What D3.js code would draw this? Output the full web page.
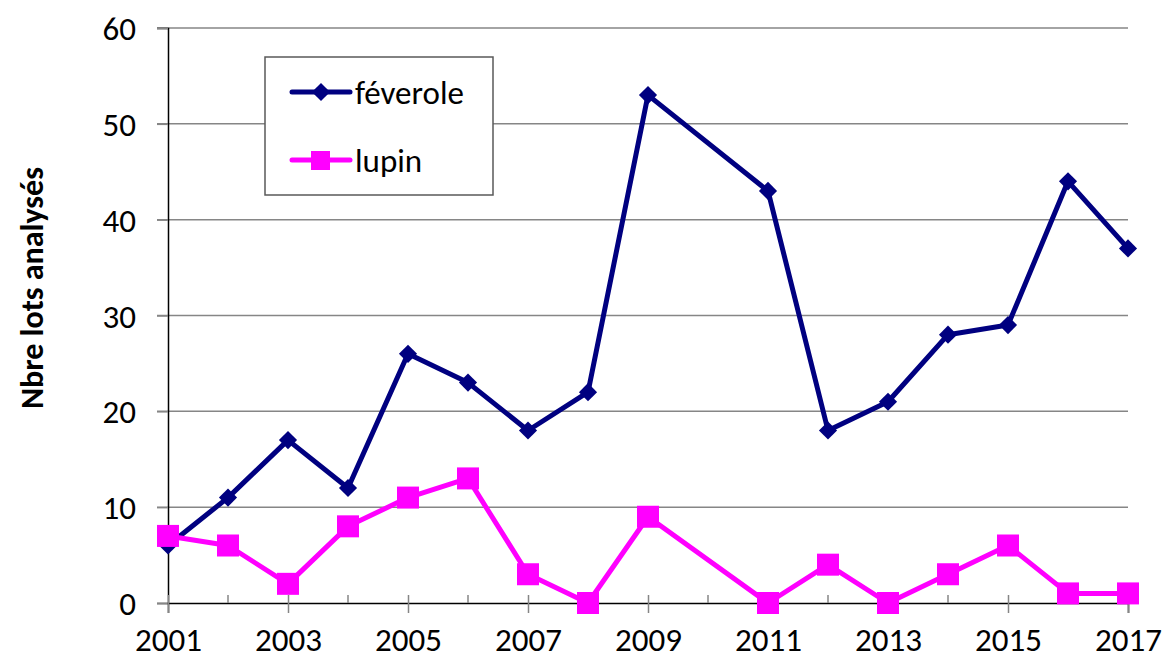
<!DOCTYPE html>
<html lang="fr">
<head>
<meta charset="UTF-8">
<title>Nbre lots analysés</title>
<script src="https://cdnjs.cloudflare.com/ajax/libs/d3/7.8.5/d3.min.js"></script>
<style>
    body { margin: 0; background: #fff; }
    svg text { font-family: Carlito, Calibri, Lato, sans-serif; fill: #000; }
</style>
</head>
<body>
<div id="chart"></div>
<script>
// years (2010 has no data)
const years = [2001, 2002, 2003, 2004, 2005, 2006, 2007, 2008, 2009, 2011, 2012, 2013, 2014, 2015, 2016, 2017];
const feverole = [6, 11, 17, 12, 26, 23, 18, 22, 53, 43, 18, 21, 28, 29, 44, 37];
const lupin = [7, 6, 2, 8, 11, 13, 3, 0, 9, 0, 4, 0, 3, 6, 1, 1];
const xTickLabels = [2001, 2003, 2005, 2007, 2009, 2011, 2013, 2015, 2017];
const yTicks = [0, 10, 20, 30, 40, 50, 60];
const seriesNames = ["féverole", "lupin"];

const W = 1162, H = 661;
const m = { left: 168, right: 34, top: 28, bottom: 58 };

const svg = d3.select("#chart").append("svg")
    .attr("width", W).attr("height", H);

const x = d3.scaleLinear().domain([2001, 2017]).range([m.left, W - m.right]);
const y = d3.scaleLinear().domain([0, 60]).range([H - m.bottom, m.top]);

// gridlines
svg.append("g").selectAll("line")
    .data(yTicks.filter(d => d > 0))
    .enter().append("line")
    .attr("x1", m.left - 11).attr("x2", W - m.right)
    .attr("y1", d => y(d)).attr("y2", d => y(d))
    .attr("stroke", "#868686").attr("stroke-width", 1.5);

// y axis
const yAxis = svg.append("g")
    .attr("transform", `translate(${m.left},0)`)
    .call(d3.axisLeft(y).tickValues(yTicks).tickSize(11).tickPadding(21));
yAxis.select(".domain").attr("stroke", "#000").attr("stroke-width", 1.5);
yAxis.selectAll(".tick line").attr("stroke", "#868686").attr("stroke-width", 1.5);
yAxis.selectAll("text").style("font-size", "33px").attr("dy", "0.35em");

// x axis
const xAxis = svg.append("g")
    .attr("transform", `translate(0,${y(0)})`)
    .call(d3.axisBottom(x).tickValues(xTickLabels).tickFormat(d3.format("d")).tickSize(10).tickPadding(15));
xAxis.select(".domain").attr("stroke", "#000").attr("stroke-width", 1.5);
xAxis.selectAll(".tick line").attr("y1", -8).attr("stroke", "#868686").attr("stroke-width", 1.5);
xAxis.selectAll("text").style("font-size", "33px");
// minor ticks on even years
svg.append("g").selectAll("line")
    .data(d3.range(2002, 2017, 2))
    .enter().append("line")
    .attr("x1", d => x(d)).attr("x2", d => x(d))
    .attr("y1", y(0) - 8).attr("y2", y(0))
    .attr("stroke", "#868686").attr("stroke-width", 1.5);

// y title
svg.append("text")
    .attr("transform", "translate(32,288) rotate(-90)")
    .attr("text-anchor", "middle")
    .attr("dy", "0.35em")
    .style("font-size", "32px").style("font-weight", "bold")
    .text("Nbre lots analysés");

const line = d3.line().x(d => x(d[0])).y(d => y(d[1]));
const fevData = years.map((yr, i) => [yr, feverole[i]]);
const lupData = years.map((yr, i) => [yr, lupin[i]]);

const diamond = d3.symbol().type(d3.symbolDiamond2).size(210);

// féverole
svg.append("path").datum(fevData)
    .attr("d", line).attr("fill", "none")
    .attr("stroke", "#000080").attr("stroke-width", 5).attr("stroke-linejoin", "round");
svg.append("g").selectAll("path")
    .data(fevData).enter().append("path")
    .attr("d", diamond)
    .attr("transform", d => `translate(${x(d[0])},${y(d[1])})`)
    .attr("fill", "#000080");

// lupin
svg.append("path").datum(lupData)
    .attr("d", line).attr("fill", "none")
    .attr("stroke", "#ff00ff").attr("stroke-width", 5).attr("stroke-linejoin", "round");
svg.append("g").selectAll("rect")
    .data(lupData).enter().append("rect")
    .attr("x", d => x(d[0]) - 11).attr("y", d => y(d[1]) - 11)
    .attr("width", 22).attr("height", 22)
    .attr("fill", "#ff00ff");

// legend
const lg = svg.append("g").attr("transform", "translate(265,57)");
lg.append("rect").attr("width", 228).attr("height", 138)
    .attr("fill", "#fff").attr("stroke", "#595959").attr("stroke-width", 1.5);
const colors = ["#000080", "#ff00ff"];
seriesNames.forEach((name, i) => {
    const yy = 35 + i * 68;
    lg.append("line").attr("x1", 27).attr("x2", 85).attr("y1", yy).attr("y2", yy)
        .attr("stroke", colors[i]).attr("stroke-width", 5).attr("stroke-linecap", "round");
    if (i === 0) {
        lg.append("path").attr("d", diamond).attr("transform", `translate(56,${yy})`).attr("fill", colors[i]);
    } else {
        lg.append("rect").attr("x", 46).attr("y", yy - 9).attr("width", 19).attr("height", 19).attr("fill", colors[i]);
    }
    lg.append("text").attr("x", 90).attr("y", yy).attr("dy", "0.35em")
        .style("font-size", "33px").text(name);
});
</script>
</body>
</html>
